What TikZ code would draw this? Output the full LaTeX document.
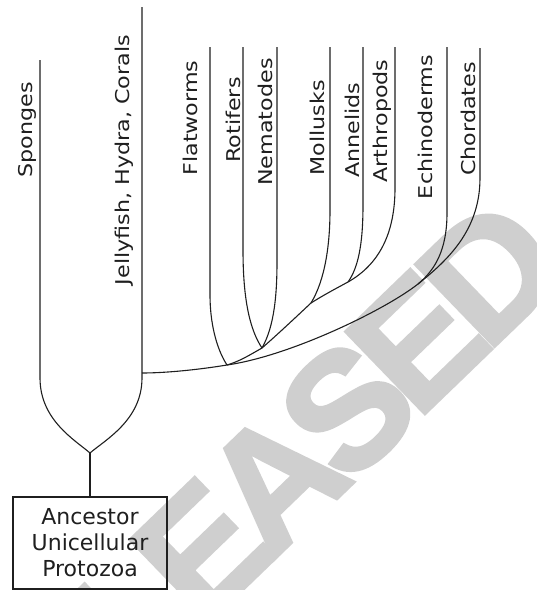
\documentclass[tikz,border=0pt]{standalone}
\usepackage{fontspec}
\setmainfont{DejaVu Sans}
\newfontface\markfont[FakeBold=2.2, LetterSpace=-8]{Liberation Sans Bold}

\begin{document}
\begin{tikzpicture}[x=1pt,y=-1pt,
  branch/.style={line width=1.1pt, draw=black!88},
  taxon/.style={rotate=90, inner sep=0pt, text=black!88,
    font=\fontsize{19}{22}\selectfont},
  ancbox/.style={draw=black!88, line width=1.1pt, align=center,
    minimum width=154pt, minimum height=92pt, inner sep=0pt,
    text=black!88, font=\fontsize{22}{26}\selectfont}]
\useasboundingbox (0,0) rectangle (537,590);

% faint stamp behind the tree
\begin{scope}
  \clip (0,0) rectangle (537,590);
  \node[rotate=44, text=black!19, inner sep=0pt,
    font=\markfont\fontsize{165}{165}\selectfont] (stamp) at (243,510) {RELEASED};
\end{scope}

% tips and bends of the branches
\coordinate (sp-top) at (40,60);   \coordinate (sp-bend) at (40,378);
\coordinate (je-top) at (142,7);   \coordinate (je-bend) at (142,378);
\coordinate (fl-top) at (210,47);  \coordinate (fl-bend) at (210,295);
\coordinate (ro-top) at (243,47);  \coordinate (ro-bend) at (243,250);
\coordinate (ne-top) at (277,47);  \coordinate (ne-bend) at (277,262);
\coordinate (mo-top) at (330,47);  \coordinate (mo-bend) at (330,210);
\coordinate (an-top) at (363,47);  \coordinate (an-bend) at (363,205);
\coordinate (ar-top) at (395,47);  \coordinate (ar-bend) at (395,188);
\coordinate (ec-top) at (447,47);  \coordinate (ec-bend) at (447,213);
\coordinate (ch-top) at (480,48);  \coordinate (ch-bend) at (480,178);

% branching points
\coordinate (cup) at (90,453);
\coordinate (jn-j) at (142,373);
\coordinate (jn-f) at (227,365);
\coordinate (jn-rn) at (262,348);
\coordinate (jn-m) at (311,303);
\coordinate (jn-a) at (348,282);
\coordinate (jn-e) at (418,284);

% ancestor
\node[ancbox] (anc) at (90,543) {Ancestor\\Unicellular\\Protozoa};

% sponges and cnidarians
\draw[branch] (sp-top) -- (sp-bend) .. controls (40,420) and (75,440) .. (cup)
  .. controls (105,440) and (142,420) .. (je-bend) -- (je-top);
\draw[branch] (cup) -- (anc.north);

% bilaterians: chordate line down to the cnidarian branch
\draw[branch] (ch-top) -- (ch-bend) .. controls (480,230) and (448,260) .. (jn-e)
  .. controls (385,310) and (290,356) .. (jn-f)
  .. controls (190,371) and (160,373) .. (jn-j);
\draw[branch] (ec-top) -- (ec-bend) .. controls (447,250) and (435,270) .. (jn-e);
\draw[branch] (ar-top) -- (ar-bend) .. controls (395,235) and (378,265) .. (jn-a)
  .. controls (335,289) and (322,296) .. (jn-m);
\draw[branch] (an-top) -- (an-bend) .. controls (363,245) and (358,268) .. (jn-a);
\draw[branch] (mo-top) -- (mo-bend) .. controls (330,245) and (325,280) .. (jn-m)
  .. controls (295,318) and (278,334) .. (jn-rn)
  .. controls (248,356) and (240,361) .. (jn-f);
\draw[branch] (ro-top) -- (ro-bend) .. controls (243,300) and (250,330) .. (jn-rn);
\draw[branch] (ne-top) -- (ne-bend) .. controls (277,305) and (272,330) .. (jn-rn);
\draw[branch] (fl-top) -- (fl-bend) .. controls (210,322) and (216,348) .. (jn-f);

% taxon names
\node[taxon] (sponges) at (27,130) {\scalebox{1.17}[1]{Sponges}};
\node[taxon] (jelly) at (124,160) {\scalebox{1.17}[1]{Jellyfish, Hydra, Corals}};
\node[taxon] (flat) at (190,118) {\scalebox{1.17}[1]{Flatworms}};
\node[taxon] (rot) at (233,120) {\scalebox{1.17}[1]{Rotifers}};
\node[taxon] (nem) at (265,122) {\scalebox{1.17}[1]{Nematodes}};
\node[taxon] (moll) at (317,128) {\scalebox{1.17}[1]{Mollusks}};
\node[taxon] (ann) at (352,130) {\scalebox{1.17}[1]{Annelids}};
\node[taxon] (arth) at (382,121) {\scalebox{1.17}[1]{Arthropods}};
\node[taxon] (echi) at (425,127) {\scalebox{1.17}[1]{Echinoderms}};
\node[taxon] (chor) at (468,119) {\scalebox{1.17}[1]{Chordates}};
\end{tikzpicture}
\end{document}
